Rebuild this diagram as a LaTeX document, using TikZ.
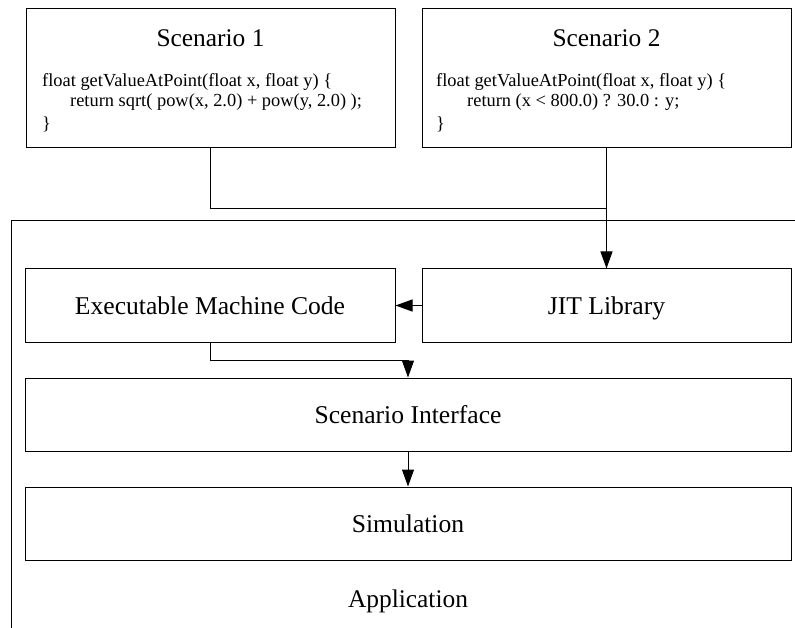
\documentclass[tikz,border=0pt]{standalone}
\usepackage{fontspec}
\setmainfont{Liberation Serif}
\usetikzlibrary{arrows.meta}

\tikzset{
  box/.style={draw, line width=1pt, rectangle, inner sep=0pt,
    font=\fontsize{25.6}{30}\selectfont, text height=17pt, text depth=0pt},
  titletext/.style={inner sep=0pt, anchor=base, font=\fontsize{25.4}{30}\selectfont},
  codetext/.style={inner sep=0pt, anchor=base west, font=\fontsize{18.4}{20}\selectfont},
  wire/.style={line width=1pt},
  arr/.style={line width=1pt, -{Triangle[length=17pt,width=12pt]}}
}

\begin{document}
\begin{tikzpicture}[x=1pt,y=-1pt]
\useasboundingbox (0,0) rectangle (795,628);

% application frame (open to the right and bottom)
\draw[wire] (830,221) -| (11,660);
\node[titletext] (applabel) at (408,607) {Application};

% scenario boxes
\node[box, minimum width=369pt, minimum height=139pt] (s1) at (210.5,78.5) {};
\node[titletext] (s1t) at (210.5,47) {Scenario 1};
\node[codetext] (s1a) at (42,87) {float getValueAtPoint(float x, float y) \{};
\node[codetext] (s1b) at (70,107) {return sqrt( pow(x, 2.0) + pow(y, 2.0) );};
\node[codetext] (s1c) at (42,130) {\}};

\node[box, minimum width=369pt, minimum height=139pt] (s2) at (606.5,78.5) {};
\node[titletext] (s2t) at (606.5,47) {Scenario 2};
\node[codetext] (s2a) at (436,87) {float getValueAtPoint(float x, float y) \{};
\node[codetext] (s2b) at (467,107) {return (x < 800.0) ? 30.0 : y;};
\node[codetext] (s2c) at (436,130) {\}};

% application components
\node[box, minimum width=370pt, minimum height=73pt] (exec) at (210,305.5) {Executable Machine Code};
\node[box, minimum width=369pt, minimum height=73pt] (jit) at (606.5,305.5) {JIT Library};
\node[box, minimum width=766pt, minimum height=73pt] (iface) at (408,414.5) {Scenario Interface};
\node[box, minimum width=766pt, minimum height=73pt] (sim) at (408,523.5) {Simulation};

% connectors
\coordinate (merge) at (606.5,209);
\coordinate (bend) at (408,360);
\draw[wire] (s1.south) |- (merge);
\draw[arr] (s2.south) -- (jit.north);
\draw[arr] (jit.west) -- (exec.east);
\draw[arr] (exec.south) |- (bend) -- (iface.north);
\draw[arr] (iface.south) -- (sim.north);
\end{tikzpicture}
\end{document}
